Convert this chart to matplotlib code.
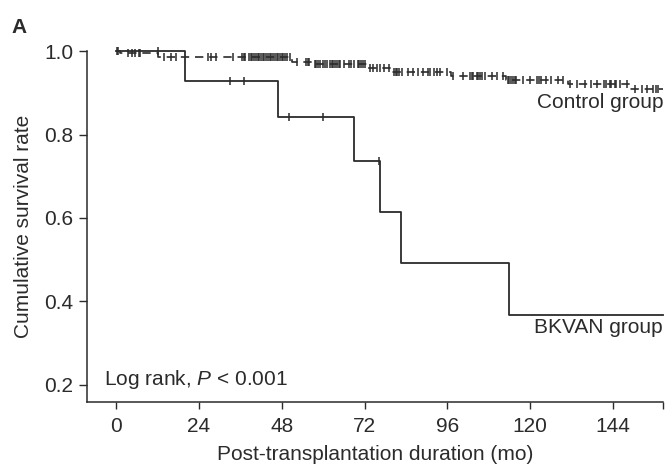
"""
Kaplan-Meier style survival curves: BKVAN group vs control group.
"""

import numpy as np
import matplotlib.pyplot as plt

# ========================
# Data
# ========================
# BKVAN group: event times (months) and survival after each event
bk_times = [0, 20, 47, 69, 76.5, 82.5, 114]
bk_surv = [1.0, 0.929, 0.843, 0.737, 0.614, 0.491, 0.368]
bk_censor = [0.3, 12, 33, 37, 50, 60, 76.3]

# Control group
ct_times = [0, 1, 12, 51, 57, 73, 80, 97, 113, 131, 149]
ct_surv = [1.0, 0.995, 0.987, 0.975, 0.968, 0.960, 0.950, 0.940, 0.930, 0.922, 0.908]
ct_censor = [
    0.5, 3.5, 4.5, 5.5, 6.5, 7, 14, 16, 17.5, 26.5, 27.5, 29,
    34, 36.5, 37, 37.5, 38.5, 39, 39.5, 40, 40.5, 41, 41.5, 42, 42.5, 43, 43.5,
    44, 44.5, 45, 45.5, 46, 46.5, 47, 47.5, 48, 48.5, 49, 49.5,
    50.5, 52.5, 55, 55.5, 56, 57.5, 58, 58.5, 59, 60, 60.5, 61, 62, 62.5, 63, 63.5,
    64, 64.5, 65, 66, 67.5, 68, 69, 70, 70.5, 71, 71.5, 72, 73.5, 74.5, 75.5,
    76.5, 77.5, 79, 80.5, 81, 81.5, 82,
    83, 84.5, 86, 87.5, 89, 90.5, 91, 92, 93, 94, 96, 97.5, 100.5,
    102.5, 103, 103.5, 104.5, 105, 105.5, 106, 107, 109, 110.5, 112, 113.5, 114,
    114.5, 115, 115.5, 116, 118, 120, 122, 122.5, 123, 124.5, 126, 128, 129.5,
    131.5, 133.5, 136, 137.5, 139.5, 141.5, 142, 143, 143.5, 144.5, 145, 146, 148,
    150.5, 152.5, 154, 155.5, 156.5, 157,
]

x_end = 158.5
xticks = [0, 24, 48, 72, 96, 120, 144]
yticks = [0.2, 0.4, 0.6, 0.8, 1.0]

# ========================
# Style
# ========================
plt.rcParams['font.family'] = ['Liberation Sans', 'DejaVu Sans']
plt.rcParams['mathtext.fontset'] = 'custom'
plt.rcParams['mathtext.rm'] = 'Liberation Sans'
plt.rcParams['mathtext.it'] = 'Liberation Sans:italic'
ink = '#2b2b2b'
fs = 15


def surv_at(times, surv, t):
    # survival at t (step function, right-continuous)
    idx = np.searchsorted(times, t, side='right') - 1
    return np.asarray(surv)[idx]


fig = plt.figure(figsize=(6.65, 4.69), dpi=100)
ax = fig.add_axes([0.131, 0.143, 0.866, 0.748])

# --------------------
# Curves
# --------------------
ax.plot(bk_times + [x_end], bk_surv + [bk_surv[-1]], drawstyle='steps-post',
        color=ink, lw=1.3, clip_on=False)
ax.plot(bk_censor, surv_at(bk_times, bk_surv, bk_censor), ls='none',
        marker='|', ms=5.5, mew=1.1, color=ink, clip_on=False)

ax.plot(ct_times + [x_end], ct_surv + [ct_surv[-1]], drawstyle='steps-post',
        color=ink, lw=1.2, dashes=(5, 3.5), clip_on=False)
ax.plot(ct_censor, surv_at(ct_times, ct_surv, ct_censor), ls='none',
        marker='|', ms=5.5, mew=1.1, color=ink, clip_on=False)

# --------------------
# Annotations
# --------------------
ax.text(x_end, 0.878, 'Control group', ha='right', va='center', fontsize=fs, color=ink)
ax.text(x_end, 0.337, 'BKVAN group', ha='right', va='center', fontsize=fs, color=ink)
ax.text(-3.4, 0.212, r'Log rank, $P$ < 0.001', ha='left', va='center',
        fontsize=fs, color=ink)
fig.text(0.018, 0.942, 'A', fontsize=fs, fontweight='bold', color=ink,
         ha='left', va='center')

# --------------------
# Axes
# --------------------
ax.set_xlim(-8.4, x_end)
ax.set_ylim(0.159, 1.0)
ax.set_xticks(xticks)
ax.set_xticks([x_end], minor=True)
ax.set_yticks(yticks)
ax.set_yticklabels([f'{v:.1f}' for v in yticks])
ax.tick_params(axis='both', which='both', direction='out', color=ink,
               labelcolor=ink, labelsize=fs, width=1.0)
ax.tick_params(axis='x', which='both', length=5, pad=6)
ax.tick_params(axis='y', length=6, pad=4)
for side in ['top', 'right']:
    ax.spines[side].set_visible(False)
for side in ['left', 'bottom']:
    ax.spines[side].set_color(ink)
    ax.spines[side].set_linewidth(1.1)

ax.set_xlabel('Post-transplantation duration (mo)', fontsize=fs, color=ink, labelpad=6)
ax.set_ylabel('Cumulative survival rate', fontsize=fs, color=ink, labelpad=8)

fig.savefig('out.png', dpi=100)
plt.close(fig)
